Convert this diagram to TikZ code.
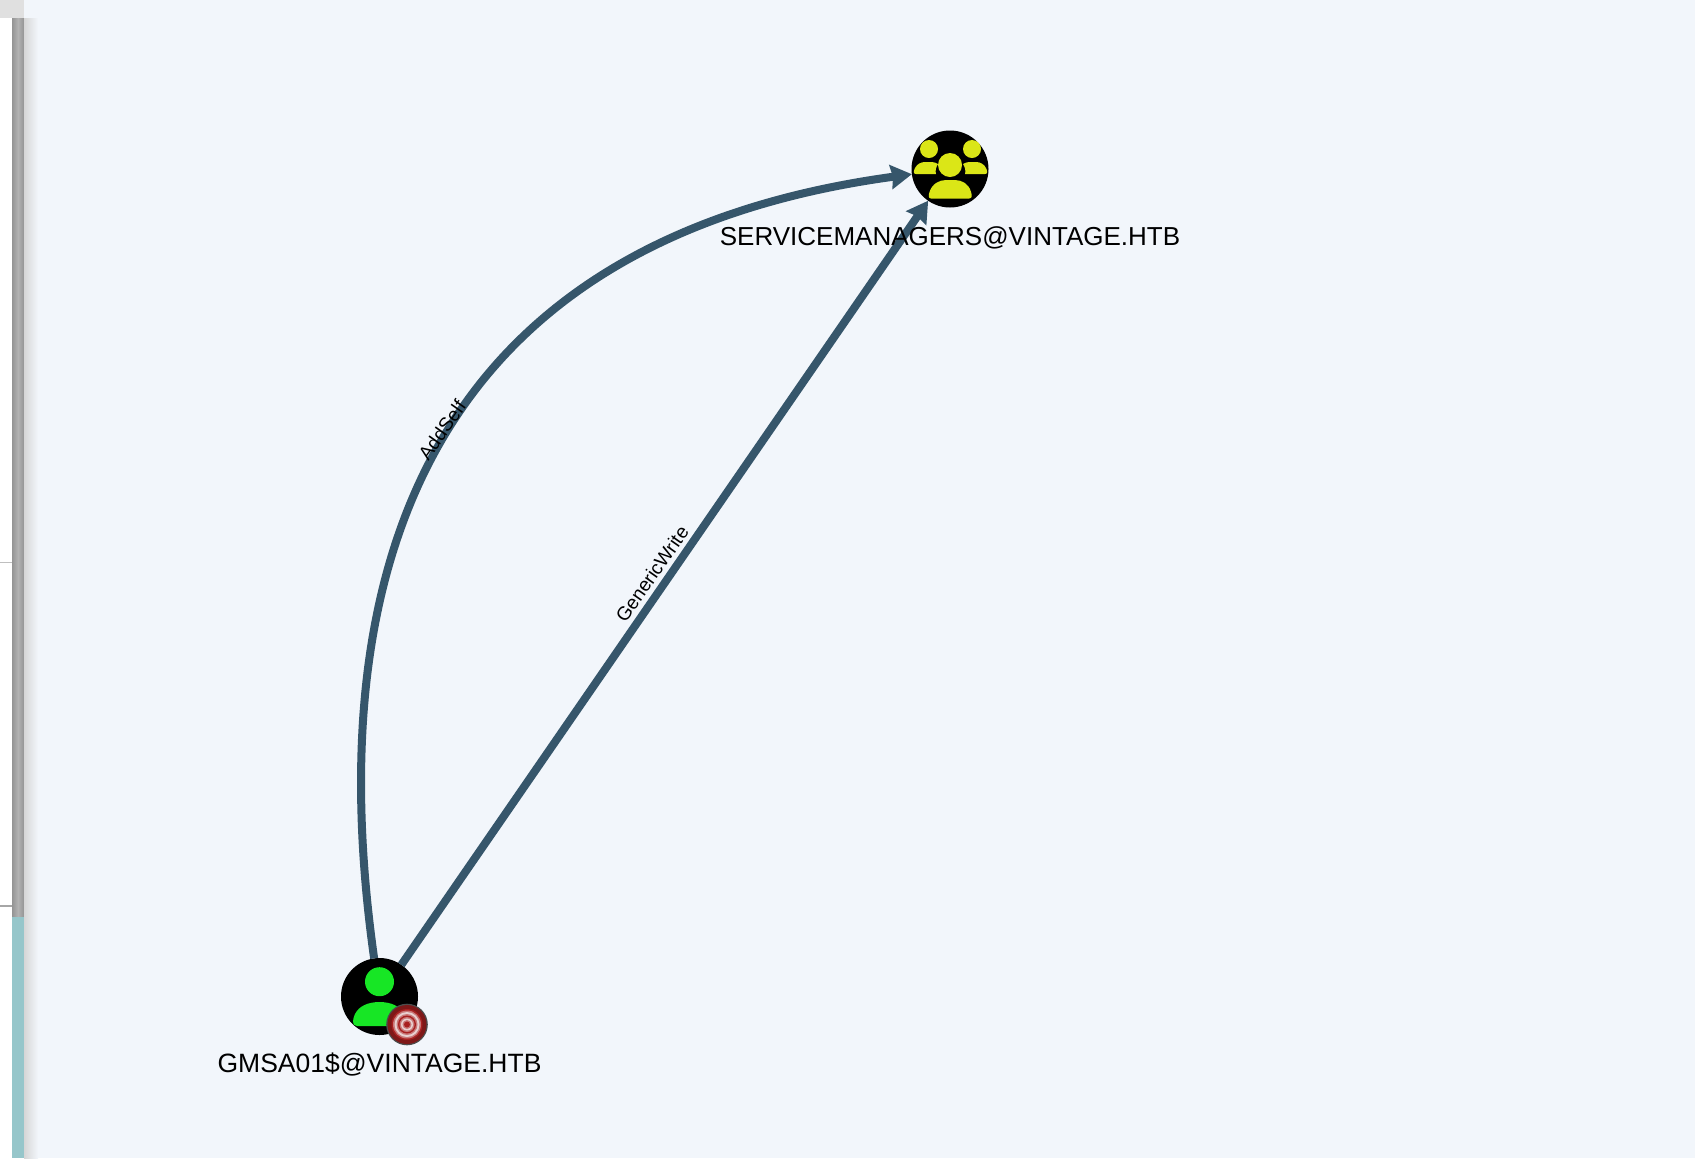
\documentclass[tikz,border=0pt]{standalone}
\usepackage{fontspec}
\setmainfont{Liberation Sans}
\usetikzlibrary{arrows.meta}
\definecolor{bgc}{HTML}{F2F6FB}
\definecolor{edgec}{HTML}{36566B}
\definecolor{ugreen}{HTML}{17E625}
\definecolor{gyellow}{HTML}{DBE617}
\definecolor{tred}{HTML}{A82020}
\definecolor{tpale}{HTML}{E8D0D0}
\definecolor{tealstrip}{HTML}{96C6CA}
\tikzset{
  x=0.5pt,y=-0.5pt,
  entity/.style={circle,fill=black,minimum size=38.5pt,inner sep=0pt,outer sep=0pt},
  rel/.style={draw=edgec,line width=4pt,-{Stealth[length=10.5pt,width=12pt,inset=1pt]}},
  nodelabel/.style={font=\fontsize{13}{15}\selectfont,text=black,inner sep=0pt},
  edgelabel/.style={font=\fontsize{9.6}{12}\selectfont,text=black,inner sep=0pt},
}
\begin{document}
\begin{tikzpicture}
\useasboundingbox (0,0) rectangle (1695,1158);
\fill[bgc] (0,0) rectangle (1695,1158);
% left strip
\fill[white] (0,0) rectangle (12,1158);
\fill[black!25] (0,562) rectangle (12,563);
\fill[black!35] (0,905) rectangle (12,907);
\shade[left color=black!42,right color=black!42,middle color=black!30] (12,18) rectangle (24,917);
\fill[tealstrip] (12,917) rectangle (24,1158);
\fill[black!12] (0,0) rectangle (24,18);
\shade[left color=black!16,right color=bgc] (24,18) rectangle (38,1158);
% entities
\node[entity] (user) at (379.5,996.5) {};
\node[entity] (group) at (950,169) {};
% edges
\coordinate (ctrlA) at (308,489);
\coordinate (ctrlB) at (494,231);
\draw[rel] (user) .. controls (ctrlA) and (ctrlB) .. (group);
\draw[rel] (user) -- (group);
% user icon
\fill[ugreen] (379.5,981.7) circle[radius=14.5];
\fill[ugreen] (357,1026) .. controls (351,1026) and (353,1018) .. (355,1014) .. controls (359,1006) and (368,1002) .. (379.5,1002) .. controls (391,1002) and (400,1006) .. (404,1014) .. controls (406,1018) and (408,1026) .. (402,1026) -- cycle;
% target badge
\fill[black!70] (407,1024.5) circle[radius=20.8];
\fill[tred!75!black] (407,1024.5) circle[radius=19.5];
\fill[tred] (407,1024.5) circle[radius=15.5];
\fill[tred!50!tpale] (407,1024.5) circle[radius=14];
\fill[tpale] (407,1024.5) circle[radius=12.5];
\fill[tred!50!tpale] (407,1024.5) circle[radius=10.5];
\fill[tred] (407,1024.5) circle[radius=9];
\fill[tred!50!tpale] (407,1024.5) circle[radius=7.5];
\fill[tpale] (407,1024.5) circle[radius=6];
\fill[tred!50!tpale] (407,1024.5) circle[radius=4.5];
\fill[tred] (407,1024.5) circle[radius=3];
% group icon
\fill[gyellow] (929,149) circle[radius=9];
\fill[gyellow] (972,149) circle[radius=9];
\fill[gyellow] (950,165) circle[radius=12];
\fill[gyellow] (916,174) .. controls (913,174) and (913.5,171) .. (915,168) .. controls (917,164) and (921,162) .. (925,162) -- (932,162) .. controls (934,162) and (936,163) .. (938,164) .. controls (936,167) and (935,171) .. (936,174) -- cycle;
\fill[gyellow] (985,174) .. controls (988,174) and (987.5,171) .. (986,168) .. controls (984,164) and (980,162) .. (976,162) -- (969,162) .. controls (967,162) and (965,163) .. (963,164) .. controls (965,167) and (966,171) .. (965,174) -- cycle;
\fill[gyellow] (931,198.5) .. controls (928,198.5) and (928.5,195) .. (929.5,192) .. controls (932,184) and (939,180) .. (946,180) -- (955,180) .. controls (962,180) and (969,184) .. (971,192) .. controls (972,195) and (972.5,198.5) .. (969,198.5) -- cycle;
% labels
\node[nodelabel,font=\fontsize{13.25}{15}\selectfont] (userlabel) at (379.5,1064) {GMSA01\$@VINTAGE.HTB};
\node[nodelabel] (grouplabel) at (950,238) {SERVICEMANAGERS@VINTAGE.HTB};
\node[edgelabel,rotate=55] (l1) at (442,430) {AddSelf};
\node[edgelabel,rotate=55] (l2) at (652,574) {GenericWrite};
\end{tikzpicture}
\end{document}
